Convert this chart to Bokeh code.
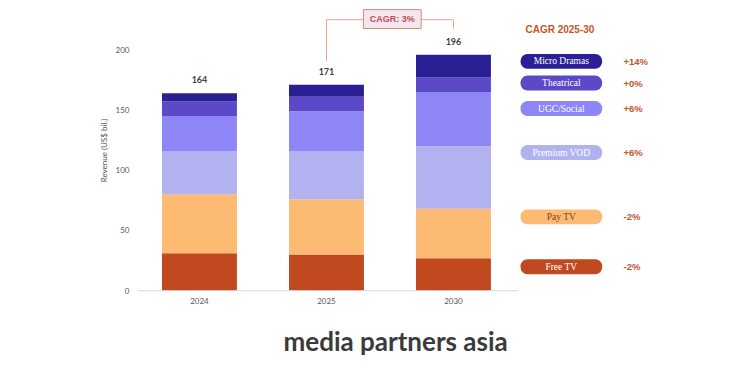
from bokeh.plotting import figure
from bokeh.models import ColumnDataSource, FixedTicker, Range1d, Title
from bokeh.embed import file_html
from bokeh.resources import INLINE
from bokeh.core.properties import value

# ---------------- data ----------------
years = ["2024", "2025", "2030"]
segments = ["Free TV", "Pay TV", "Premium VOD", "UGC/Social", "Theatrical", "Micro Dramas"]
free_tv = [31, 30, 27]
pay_tv = [49, 46, 41]
premium_vod = [36, 40, 52]
ugc_social = [29, 33, 45]
theatrical = [12, 12, 12]
micro_dramas = [7, 10, 19]
cagr_2025_30 = ["-2%", "-2%", "+6%", "+6%", "+0%", "+14%"]
y_ticks = [0, 50, 100, 150, 200]

# ---------------- styles / layout ----------------
colors = ["#C1491F", "#FDBA72", "#B3B2F0", "#8E86F7", "#5B49C7", "#2B1F96"]
pill_text_colors = ["white", "#7A4418", "white", "white", "white", "white"]
accent = "#C4552B"
label_font = value("Lato")

series = [free_tv, pay_tv, premium_vod, ugc_social, theatrical, micro_dramas]
keys = ["free_tv", "pay_tv", "premium_vod", "ugc_social", "theatrical", "micro_dramas"]
xs = list(range(len(years)))
totals = [sum(v[i] for v in series) for i in xs]

src = ColumnDataSource(dict(x=xs, **{k: s for k, s in zip(keys, series)}))

p = figure(width=742, height=375, output_backend="svg", toolbar_location=None,
           x_range=Range1d(-0.488, 4.276), y_range=Range1d(-1.5, 234.3),
           min_border_left=137, min_border_right=0, min_border_top=8, min_border_bottom=83)
p.outline_line_color = None
p.background_fill_color = "white"
p.border_fill_color = "white"
p.xgrid.visible = False
p.ygrid.visible = False

p.vbar_stack(keys, x="x", width=0.59, fill_color=colors, line_color=None, source=src)

# baseline
p.line(x=[-0.488, 2.512], y=[0, 0], line_color="#D9D9D9", line_width=1)

# totals
p.text(x=xs, y=[t + 11 for t in totals], text=[str(t) for t in totals],
       text_align="center", text_baseline="middle", text_font=label_font,
       text_font_style="bold", text_font_size="9px", text_color="#404040")

# axes
p.xaxis.ticker = FixedTicker(ticks=xs)
p.xaxis.major_label_overrides = {i: y for i, y in zip(xs, years)}
p.xaxis.axis_line_color = None
p.xaxis.major_tick_line_color = None
p.xaxis.minor_tick_line_color = None
p.xaxis.major_tick_in = 0
p.xaxis.major_tick_out = 0
p.xaxis.major_label_standoff = 5
p.xaxis.major_label_text_font = "Lato"
p.xaxis.major_label_text_font_size = "8px"
p.xaxis.major_label_text_color = "#595959"

p.yaxis.ticker = FixedTicker(ticks=y_ticks)
p.yaxis.axis_line_color = None
p.yaxis.major_tick_line_color = None
p.yaxis.minor_tick_line_color = None
p.yaxis.major_tick_in = 0
p.yaxis.major_tick_out = 0
p.yaxis.major_label_standoff = 8
p.yaxis.major_label_text_font = "Lato"
p.yaxis.major_label_text_font_size = "8px"
p.yaxis.major_label_text_color = "#595959"
p.yaxis.axis_label = "Revenue (US$ bil.)"
p.yaxis.axis_label_text_font = "Lato"
p.yaxis.axis_label_text_font_style = "normal"
p.yaxis.axis_label_text_font_size = "8px"
p.yaxis.axis_label_text_color = "#595959"
p.yaxis.axis_label_standoff = 4

# CAGR bracket between 2025 and 2030
i25, i30 = years.index("2025"), years.index("2030")
overall = (totals[i30] / totals[i25]) ** (1 / 5) - 1
box_l, box_r = 1.291, 1.746
p.line(x=[xs[i25], xs[i25], box_l], y=[totals[i25] + 19.5, 225, 225], line_color="#E6A493", line_width=1)
p.line(x=[box_r, xs[i30], xs[i30]], y=[225, 225, 217.5], line_color="#E6A493", line_width=1)
p.quad(left=[box_l], right=[box_r], bottom=[217.7], top=[233.4],
       fill_color="#F4E6EE", line_color="#D98A78", line_width=1)
p.text(x=[(box_l + box_r) / 2], y=[225.5], text=[f"CAGR: {round(overall * 100):.0f}%"],
       text_align="center", text_baseline="middle", text_font=value("Liberation Sans"),
       text_font_style="bold", text_font_size="9px", text_color="#C0504D")

# side legend with CAGR
pill_y = [19.9, 61.3, 114.7, 151.2, 172.4, 190.4]
pill_l, pill_r = 2.528, 3.171
p.quad(left=[pill_l] * 6, right=[pill_r] * 6, bottom=[y - 6.2 for y in pill_y],
       top=[y + 6.2 for y in pill_y], fill_color=colors, line_color=None, border_radius=7)
p.text(x=[(pill_l + pill_r) / 2] * 6, y=pill_y, text=segments, text_align="center",
       text_baseline="middle", text_font=value("Liberation Serif"), text_font_size="9.5px",
       text_color=pill_text_colors)
p.text(x=[3.339] * 6, y=pill_y, text=cagr_2025_30, text_align="left", text_baseline="middle",
       text_font=value("Liberation Sans"), text_font_style="bold", text_font_size="9.5px",
       text_color=accent)
p.text(x=[2.567], y=[216.9], text=["CAGR 2025-30"], text_align="left", text_baseline="middle",
       text_font=value("Liberation Sans"), text_font_style="bold", text_font_size="10px",
       text_color=accent)

# logo text
p.add_layout(Title(text="media partners asia", align="left", offset=146, standoff=33,
                   text_font="Lato", text_font_style="bold", text_font_size="26px",
                   text_color="#3A3A3A"), "below")

open("out.html", "w").write(file_html(p, INLINE))
